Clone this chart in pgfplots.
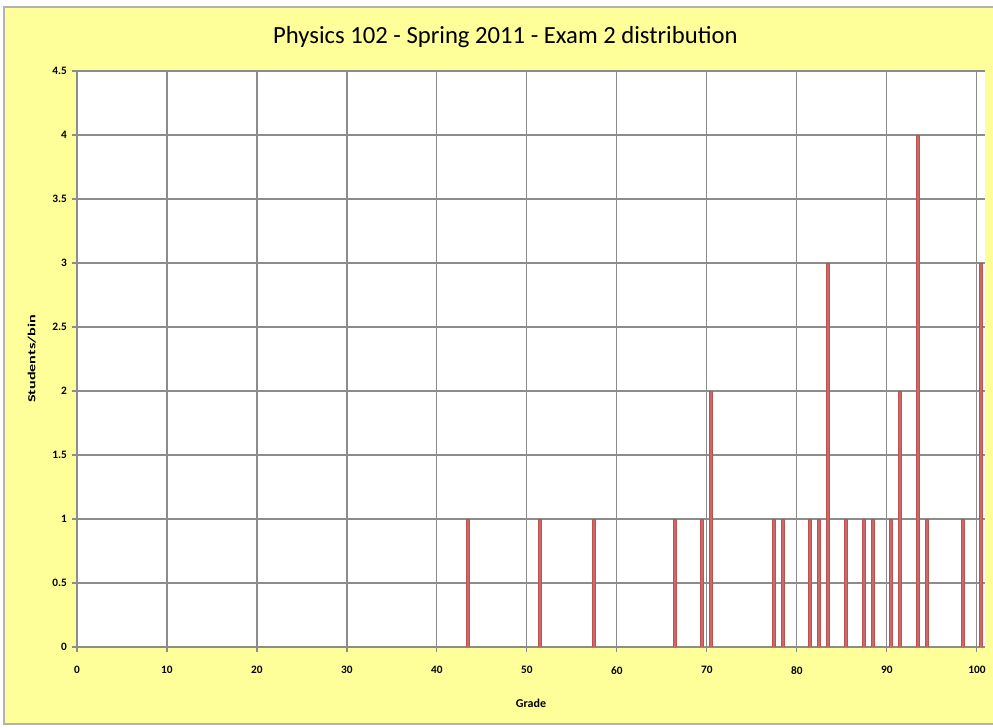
\documentclass[border=0pt]{standalone}
\usepackage{pgfplots}
\pgfplotsset{compat=1.18}
\usepackage{fontspec}
\setmainfont{Carlito}
\definecolor{bg}{HTML}{FFFF99}
\definecolor{barred}{HTML}{C0504D}
\definecolor{gridgray}{HTML}{8C8C8C}
\begin{document}
\begin{tikzpicture}
\fill[white] (0pt,0pt) rectangle (744.75pt,546pt);
\filldraw[fill=bg, draw=gray!60, line width=1pt] (3pt,3pt) rectangle (750pt,540.75pt);
\node[font=\fontsize{18.5}{22}\selectfont] at (379pt,518pt) {Physics 102 - Spring 2011 - Exam 2 distribution};
\begin{axis}[
  at={(57.75pt,60.75pt)}, anchor=origin,
  scale only axis, width=681pt, height=432pt,
  xmin=0, xmax=100.9, ymin=0, ymax=4.5,
  xtick={0,10,...,100}, ytick={0,0.5,...,4.5},
  grid=major, grid style={gridgray, line width=0.8pt},
  axis background/.style={fill=white},
  axis line style={gridgray, line width=0.8pt},
  axis x line*=bottom, axis y line*=left,
  tick align=outside, tick style={gridgray, line width=0.8pt}, major tick length=4pt,
  ticklabel style={font=\fontsize{8.5}{10}\selectfont\bfseries},
  xticklabel style={yshift=-7pt},
  /pgf/number format/assume math mode=true,
  xlabel={Grade}, ylabel={\scalebox{1.35}[0.9]{Students/bin}},
  label style={font=\fontsize{9}{10}\selectfont\bfseries},
  xlabel style={at={(axis description cs:0.5,-0.097)}, anchor=center},
  ylabel style={at={(axis description cs:-0.0496,0.5)}, anchor=center},
]
\addplot[ybar, bar width=0.32, fill=barred!85, draw=barred, line width=0.4pt] coordinates {
(43.4,1) (51.4,1) (57.4,1) (66.4,1) (69.4,1) (70.4,2) (77.4,1) (78.4,1)
(81.4,1) (82.4,1) (83.4,3) (85.4,1) (87.4,1) (88.4,1) (90.4,1) (91.4,2)
(93.4,4) (94.4,1) (98.4,1) (100.4,3)
};
\end{axis}
\pgfresetboundingbox
\useasboundingbox (0pt,0pt) rectangle (744.75pt,546pt);
\end{tikzpicture}
\end{document}
